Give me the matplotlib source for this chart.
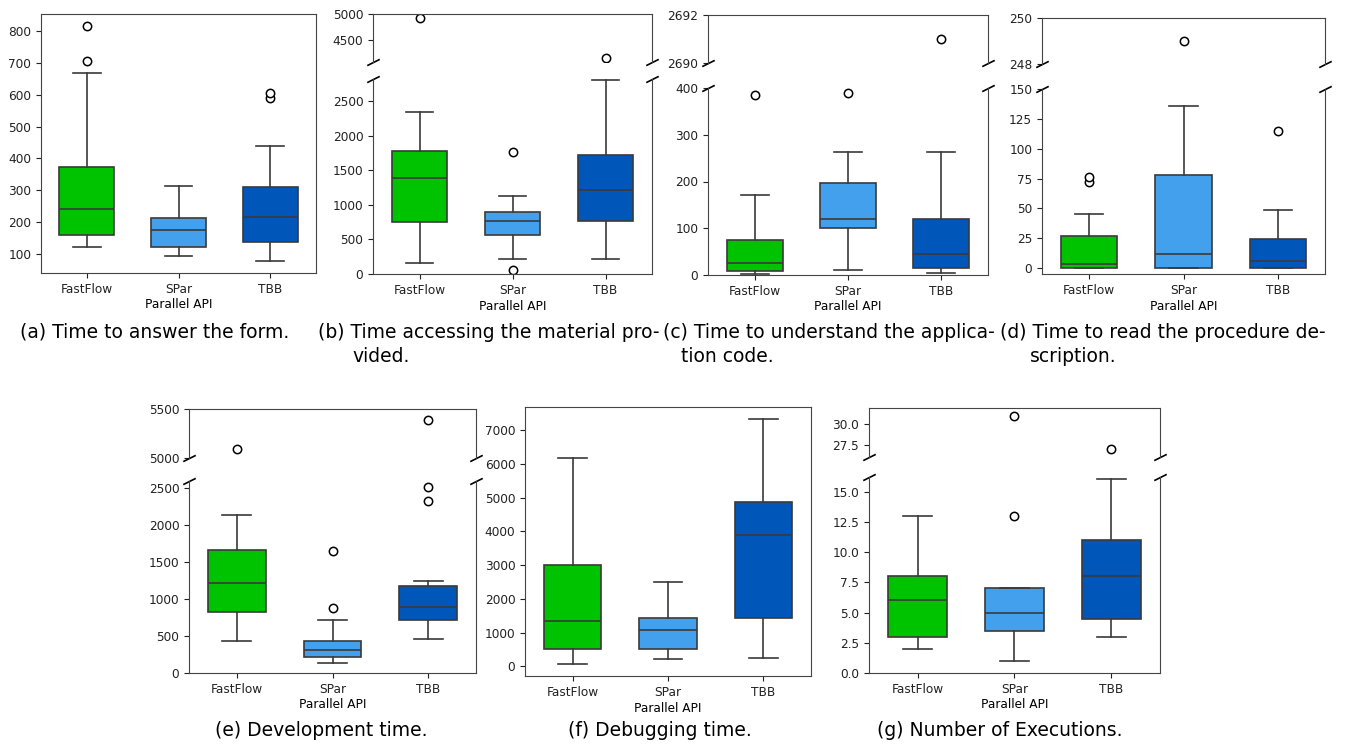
import matplotlib
matplotlib.use('Agg')
import matplotlib.pyplot as plt

# Datos: [bigote inf, Q1, mediana, Q3, bigote sup] por API
apis = ['FastFlow', 'SPar', 'TBB']
colores = ['#00c300', '#42a0ec', '#0157b9']

form_stats = [[122, 160, 240, 373, 670], [94, 122, 175, 212, 312], [76, 136, 215, 310, 440]]
form_fliers = [[706, 818], [], [590, 606]]

material_stats = [[155, 745, 1395, 1778, 2342], [222, 568, 768, 894, 1125], [210, 768, 1220, 1728, 2800]]
material_fliers = [[4928], [60, 1758], [4140]]

code_stats = [[2, 8, 26, 75, 172], [10, 100, 120, 197, 264], [4, 15, 45, 120, 264]]
code_fliers = [[384], [389], [2691]]

proc_stats = [[0, 0, 3, 27, 45], [0, 0, 12, 78, 136], [0, 0, 6, 24, 49]]
proc_fliers = [[72, 76], [249], [115]]

dev_stats = [[430, 830, 1225, 1660, 2142], [135, 218, 318, 440, 720], [462, 722, 895, 1183, 1242]]
dev_fliers = [[5090], [886, 1650], [2328, 2515, 5392]]

debug_stats = [[80, 505, 1360, 3005, 6172], [218, 505, 1094, 1423, 2505], [248, 1423, 3902, 4886, 7325]]
debug_fliers = [[], [], []]

exec_stats = [[2, 3, 6, 8, 13], [1, 3.5, 5, 7, 7], [3, 4.5, 8, 11, 16]]
exec_fliers = [[], [13, 31], [27]]

W, H = 1350, 746
fig = plt.figure(figsize=(W / 100, H / 100), dpi=100)

LINE = '#3a3a3a'
FS = 8.7


def rect(l, t, r, b):
    return [l / W, 1 - b / H, (r - l) / W, (b - t) / H]


def hacer_stats(stats, fliers):
    out = []
    for s, f, name in zip(stats, fliers, apis):
        out.append(dict(whislo=s[0], q1=s[1], med=s[2], q3=s[3], whishi=s[4], fliers=f, label=name))
    return out


def dibujar(ax, stats, fliers):
    bp = ax.bxp(hacer_stats(stats, fliers), positions=[0, 1, 2], widths=0.6, patch_artist=True,
                boxprops=dict(edgecolor=LINE, linewidth=1.2),
                medianprops=dict(color=LINE, linewidth=1.2),
                whiskerprops=dict(color=LINE, linewidth=1.2),
                capprops=dict(color=LINE, linewidth=1.2),
                flierprops=dict(marker='o', markerfacecolor='white', markeredgecolor='black',
                                markersize=6, markeredgewidth=1.1))
    for patch, c in zip(bp['boxes'], colores):
        patch.set_facecolor(c)
    ax.set_xlim(-0.5, 2.5)
    for sp in ax.spines.values():
        sp.set_color('#444444')
    ax.tick_params(labelsize=FS, colors='#222222')


def abajo(ax):
    ax.set_xticks([0, 1, 2])
    ax.set_xticklabels(apis)
    ax.set_xlabel('Parallel API', fontsize=FS, labelpad=2)


def simple(r, stats, fliers):
    ax = fig.add_axes(rect(*r))
    dibujar(ax, stats, fliers)
    abajo(ax)
    return ax


def partido(r_up, r_low, stats, fliers, ylim_up, ylim_low, ticks_up, ticks_low):
    ax1 = fig.add_axes(rect(*r_up))
    ax2 = fig.add_axes(rect(*r_low))
    dibujar(ax1, stats, fliers)
    dibujar(ax2, stats, fliers)
    ax1.set_ylim(*ylim_up)
    ax2.set_ylim(*ylim_low)
    ax1.set_yticks(ticks_up)
    ax2.set_yticks(ticks_low)
    ax1.spines['bottom'].set_visible(False)
    ax2.spines['top'].set_visible(False)
    ax1.set_xticks([])
    abajo(ax2)
    d = 0.5
    kw = dict(marker=[(-1, -d), (1, d)], markersize=9, linestyle='none', color='k',
              mec='k', mew=1.2, clip_on=False)
    ax1.plot([0, 1], [0, 0], transform=ax1.transAxes, **kw)
    ax2.plot([0, 1], [1, 1], transform=ax2.transAxes, **kw)
    return ax1, ax2


# fila superior
simple((41, 14, 316, 273), form_stats, form_fliers)
partido((373, 14, 652, 62), (373, 79, 652, 274), material_stats, material_fliers,
        (4060, 5000), (0, 2820), [4500, 5000], [0, 500, 1000, 1500, 2000, 2500])
partido((708, 15, 988, 63), (708, 88, 988, 275), code_stats, code_fliers,
        (2690, 2692), (0, 400), [2690, 2692], [0, 100, 200, 300, 400])
partido((1042, 18, 1325, 64), (1042, 89, 1325, 274), proc_stats, proc_fliers,
        (248, 250), (-5, 150), [248, 250], [0, 25, 50, 75, 100, 125, 150])

# fila inferior
partido((189, 409, 476, 458), (189, 481, 476, 673), dev_stats, dev_fliers,
        (5000, 5500), (0, 2600), [5000, 5500], [0, 500, 1000, 1500, 2000, 2500])
simple((525, 407, 811, 676), debug_stats, debug_fliers)
partido((869, 408, 1160, 457), (869, 477, 1160, 673), exec_stats, exec_fliers,
        (26.1, 31.9), (0, 16.2), [27.5, 30.0], [0, 2.5, 5, 7.5, 10, 12.5, 15])

# subtitulos
CF = 13.5
def cap(x, y, s, ha='left'):
    fig.text(x / W, 1 - y / H, s, fontsize=CF, ha=ha, va='center', color='black')

cap(20, 332, '(a) Time to answer the form.')
cap(318, 332, '(b) Time accessing the material pro-')
cap(352, 357, 'vided.')
cap(663, 332, '(c) Time to understand the applica-')
cap(681, 357, 'tion code.')
cap(1000, 332, '(d) Time to read the procedure de-')
cap(1030, 357, 'scription.')
cap(321, 731, '(e) Development time.', ha='center')
cap(660, 731, '(f) Debugging time.', ha='center')
cap(1000, 731, '(g) Number of Executions.', ha='center')

fig.savefig('out.png', dpi=100)
